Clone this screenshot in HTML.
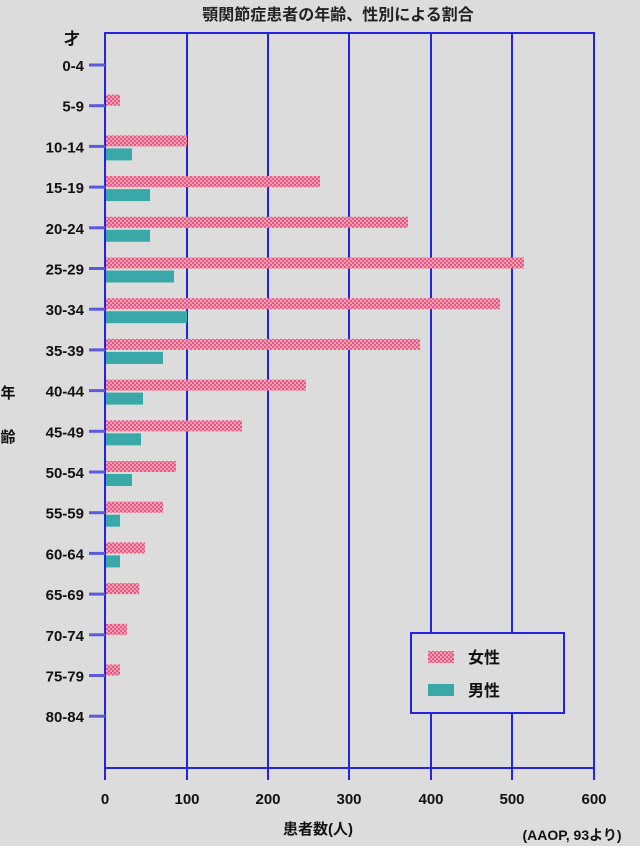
<!DOCTYPE html>
<html><head><meta charset="utf-8"><style>
body{margin:0;background:#dcdcdc;}
svg{display:block;font-family:"Liberation Sans","Noto Sans CJK JP",sans-serif;}
</style></head><body>
<svg width="640" height="846" viewBox="0 0 640 846">
<defs>
<pattern id="pf" width="4" height="4" patternUnits="userSpaceOnUse">
<rect width="4" height="4" fill="#e8587e"/><rect x="0" y="0" width="2" height="2" fill="#f0a0b8"/><rect x="2" y="2" width="2" height="2" fill="#f0a0b8"/>
</pattern>
</defs>
<rect width="640" height="846" fill="#dcdcdc"/>
<text x="338" y="20" font-size="16" font-weight="bold" text-anchor="middle" fill="#222">顎関節症患者の年齢、性別による割合</text>
<g stroke="#2424e0" stroke-width="2" fill="none">
<rect x="105" y="33" width="489" height="735"/>
<line x1="187" y1="33" x2="187" y2="780"/>
<line x1="268" y1="33" x2="268" y2="780"/>
<line x1="349" y1="33" x2="349" y2="780"/>
<line x1="431" y1="33" x2="431" y2="780"/>
<line x1="512" y1="33" x2="512" y2="780"/>
<line x1="594" y1="33" x2="594" y2="780"/>
<line x1="105" y1="768" x2="105" y2="780"/>
</g>
<g id="bars"></g>
<g font-size="15" font-weight="bold" fill="#111" text-anchor="middle">
<text x="105" y="804">0</text><text x="187" y="804">100</text><text x="268" y="804">200</text><text x="349" y="804">300</text><text x="431" y="804">400</text><text x="512" y="804">500</text><text x="594" y="804">600</text>
</g>
<text x="318" y="834" font-size="15" font-weight="bold" text-anchor="middle" fill="#111">患者数(人)</text>
<text x="572" y="840" font-size="14" font-weight="bold" text-anchor="middle" fill="#111">(AAOP, 93より)</text>
<text x="72" y="44" font-size="16" font-weight="bold" text-anchor="middle" fill="#111">才</text>
<text x="8" y="398" font-size="15" font-weight="bold" text-anchor="middle" fill="#111">年</text>
<text x="8" y="442" font-size="15" font-weight="bold" text-anchor="middle" fill="#111">齢</text>
<rect x="411" y="633" width="153" height="80" fill="#dcdcdc" stroke="#2424e0" stroke-width="2"/>
<rect x="428" y="651" width="26" height="12" fill="url(#pf)"/>
<rect x="428" y="684" width="26" height="12" fill="#3aa8a8"/>
<text x="468" y="663" font-size="16" font-weight="bold" fill="#111">女性</text>
<text x="468" y="696" font-size="16" font-weight="bold" fill="#111">男性</text>
<script>
var labels=["0-4","5-9","10-14","15-19","20-24","25-29","30-34","35-39","40-44","45-49","50-54","55-59","60-64","65-69","70-74","75-79","80-84"];
var F=[0,120,187,320,408,524,500,420,306,242,176,163,145,139,127,120,0];
var M=[0,0,132,150,150,174,187,163,143,141,132,120,120,0,0,0,0];
var ns="http://www.w3.org/2000/svg",s=document.querySelector("svg");
function el(n,a,t){var e=document.createElementNS(ns,n);for(var k in a)e.setAttribute(k,a[k]);if(t)e.textContent=t;s.appendChild(e);return e;}
for(var i=0;i<17;i++){var y=65+i*40.7;
el("line",{x1:89,y1:y,x2:105,y2:y,stroke:"#5a5ae0","stroke-width":3});
el("text",{x:84,y:y+6,"font-size":15,"font-weight":"bold","text-anchor":"end",fill:"#111"},labels[i]);
if(F[i])el("rect",{x:106,y:y-11,width:F[i]-106,height:11,fill:"url(#pf)"});
if(M[i])el("rect",{x:106,y:y+2,width:M[i]-106,height:12,fill:"#3aa8a8"});
}
</script>
</svg>
</body></html>
